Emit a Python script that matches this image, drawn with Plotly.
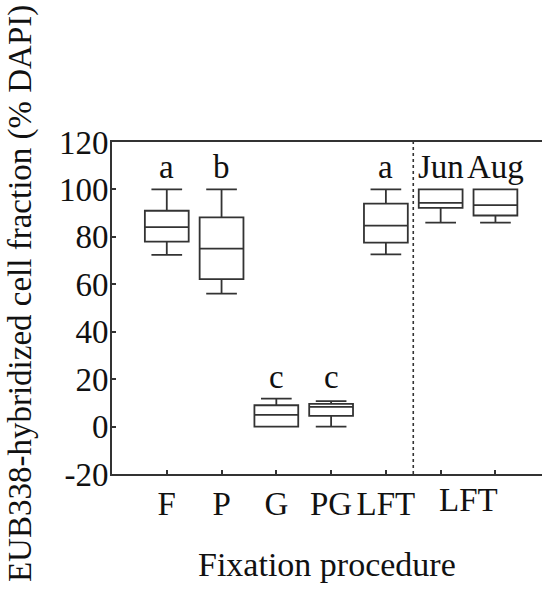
import plotly.graph_objects as go

# Data
positions = [1, 2, 3, 4, 5, 6, 7]
groups = ["F", "P", "G", "PG", "LFT", "Jun", "Aug"]
upper = [100, 100, 11.8, 10.7, 100, 100, 100]
q3 = [91.0, 88.2, 9.0, 9.6, 94.0, 100, 100]
median = [84.1, 75.0, 4.9, 8.3, 84.7, 94.3, 93.4]
q1 = [78.0, 62.2, 0.0, 4.5, 77.6, 92.2, 89.0]
lower = [72.4, 56.1, 0.0, 0.0, 72.6, 86.0, 86.0]
letters = ["a", "b", "c", "c", "a", "Jun", "Aug"]
letter_y = [109.5, 109.5, 21.0, 21.0, 109.5, 109.5, 109.5]
tick_text = ["F", "P", "G", "PG", "LFT", "", ""]
y_tick_vals = [-20, 0, 20, 40, 60, 80, 100, 120]
y_tick_text = ["-20", "0", "20", "40", "60", "80", "100", "120"]
season_label = "LFT"
season_pos = 6.5
divider_pos = 5.5
y_title = "EUB338-hybridized cell fraction (% DAPI)"
x_title = "Fixation procedure"

FONT = "Liberation Serif"
INK = "#333333"

fig = go.Figure()
for i in range(len(groups)):
    fig.add_trace(go.Box(
        x=[positions[i]], q1=[q1[i]], median=[median[i]], q3=[q3[i]],
        lowerfence=[lower[i]], upperfence=[upper[i]],
        boxpoints=False, width=0.8, whiskerwidth=0.7,
        line=dict(color=INK, width=1.8), fillcolor="rgba(255,255,255,0)",
        name=groups[i], showlegend=False, hoverinfo="skip"))

for i in range(len(letters)):
    fig.add_annotation(x=positions[i], y=letter_y[i], text=letters[i],
                       showarrow=False, xanchor="center", yanchor="middle",
                       font=dict(family=FONT, size=33, color="#111"))

fig.add_annotation(x=season_pos, y=0, yref="paper", yanchor="top", yshift=-6,
                   text=season_label, showarrow=False,
                   font=dict(family=FONT, size=33, color="#111"))

fig.add_shape(type="line", x0=divider_pos, x1=divider_pos, y0=0, y1=1, yref="paper",
              line=dict(color=INK, width=1.6, dash="dot"))

fig.add_annotation(x=-0.214, y=0.545, xref="paper", yref="paper", text=y_title,
                   textangle=-90, showarrow=False, xanchor="center", yanchor="middle",
                   font=dict(family=FONT, size=33, color="#111"))
fig.add_annotation(x=0.5, y=-0.274, xref="paper", yref="paper", text=x_title,
                   showarrow=False, xanchor="center", yanchor="middle",
                   font=dict(family=FONT, size=34, color="#111"))

fig.update_layout(
    width=542, height=606,
    margin=dict(l=112, r=0, t=142, b=132, autoexpand=False),
    paper_bgcolor="white", plot_bgcolor="white",
    font=dict(family=FONT, size=33, color="#111"),
    xaxis=dict(range=[0, 7.85], tickmode="array", tickvals=positions, ticktext=tick_text,
               ticks="inside", ticklen=4, tickcolor=INK, tickwidth=1.5,
               showline=True, linecolor=INK, linewidth=1.6, mirror=True, automargin=False,
               showgrid=False, zeroline=False, fixedrange=True),
    yaxis=dict(range=[-20, 120], tickmode="array", tickvals=y_tick_vals, ticktext=y_tick_text,
               ticks="inside", ticklen=4, tickcolor=INK, tickwidth=1.5, ticklabelstandoff=-5,
               showline=True, linecolor=INK, linewidth=1.6, mirror=False, automargin=False,
               showgrid=False, zeroline=False, fixedrange=True),
)

fig.write_html("out.html", config={"displayModeBar": False},
               post_script="document.body.style.margin='0';document.body.style.overflow='hidden';")
